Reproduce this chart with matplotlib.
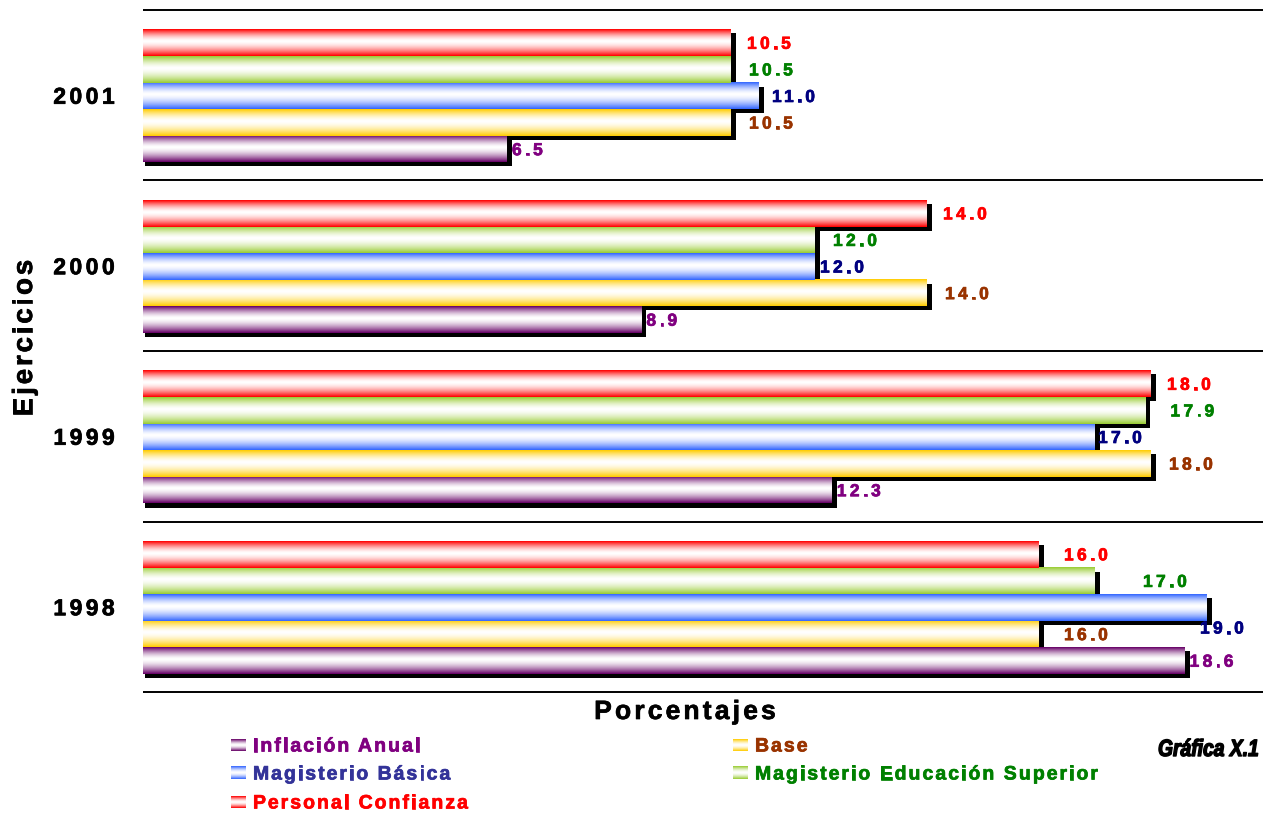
import matplotlib
matplotlib.use("Agg")
import matplotlib.pyplot as plt
import numpy as np
from matplotlib import transforms
from matplotlib import patheffects
from matplotlib.colors import LinearSegmentedColormap
from matplotlib.font_manager import FontProperties
from matplotlib.patches import Rectangle
from matplotlib.transforms import Affine2D

# ---------------------------------------------------------------------------
# Data (1998 .. 2001)
# ---------------------------------------------------------------------------
years = ["1998", "1999", "2000", "2001"]
series = ["Inflación Anual", "Base", "Magisterio Básica",
          "Magisterio Educación Superior", "Personal Confianza"]
inflacion = [18.6, 12.3, 8.9, 6.5]
base = [16.0, 18.0, 14.0, 10.5]
basica = [19.0, 17.0, 12.0, 11.0]
superior = [17.0, 17.9, 12.0, 10.5]
confianza = [16.0, 18.0, 14.0, 10.5]
values = [inflacion, base, basica, superior, confianza]

bar_colors = ["#660066", "#FFCC00", "#3366FF", "#99CC33", "#FF0000"]
label_colors = ["#800080", "#993300", "#000080", "#008000", "#FF0000"]
legend_colors = ["#800080", "#993300", "#333399", "#008000", "#FF0000"]

# label nudges in pixels (Excel placed some labels oddly)
label_dx = [5, 18, 5, 18, 16]
label_nudge = {(3, 2): (13, 0), (0, 4): (25, 0), (0, 1): (25, 0),
               (0, 3): (48, 0), (1, 3): (25, 0), (1, 2): (3, 0),
               (0, 2): (-7, -20)}

W, H = 1263, 813
fig = plt.figure(figsize=(W / 100, H / 100), dpi=100)
renderer = fig.canvas.get_renderer()

# pixel overlay for free text and legend
ax_px = fig.add_axes([0, 0, 1, 1])
ax_px.set_axis_off()

ax = fig.add_axes([143 / W, 1 - 692 / H, 1120 / W, 682 / H])
ax.set_axis_off()

px_x = 20 / 1120
px_y = 4 / 682
bar_h = 26.6 * px_y
base_off = 18 * px_y

# vertical gradient: colour at the edges, white slightly above centre
u = np.linspace(0, 1, 64)
d = np.where(u < 0.55, (0.55 - u) / 0.55, (u - 0.55) / 0.45)
grad = (1 - d ** 1.6)[:, None]
cmaps = [LinearSegmentedColormap.from_list(f"g{k}", [c, "white"])
         for k, c in enumerate(bar_colors)]

for i in range(len(years)):
    for k, vals in enumerate(values):
        y0 = i + base_off + k * bar_h
        v = vals[i]
        ax.add_patch(Rectangle((2 * px_x, y0 - 4 * px_y), v + 3 * px_x, bar_h,
                               color="black", lw=0, zorder=2))
        ax.imshow(grad, cmap=cmaps[k], vmin=0, vmax=1, origin="lower",
                  extent=(0, v, y0, y0 + bar_h), aspect="auto",
                  interpolation="bilinear", zorder=3)

ax.hlines(np.arange(len(years) + 1), 0, 20, color="black", lw=1.4,
          zorder=1, clip_on=False)
ax.set_xlim(0, 20)
ax.set_ylim(0, 4)


class Squeeze(patheffects.AbstractPathEffect):
    """Draw text narrower (condensed look), right edge kept, a bit heavier."""

    def __init__(self, sx, shift_px, stroke=0.6):
        super().__init__()
        self.sx = sx
        self.shift = shift_px
        self.stroke = stroke

    def draw_path(self, renderer, gc, tpath, affine, rgbFace=None):
        aff = (Affine2D().scale(self.sx, 1) + affine
               + Affine2D().translate(self.shift, 0))
        gc0 = renderer.new_gc()
        gc0.copy_properties(gc)
        gc0.set_linewidth(self.stroke)
        gc0.set_foreground(rgbFace)
        renderer.draw_path(gc0, tpath, aff, rgbFace)
        gc0.restore()


def ink_width(s, fp):
    w, h, dsc = renderer.get_text_width_height_descent(s, fp, ismath=False)
    return w


def cap_height(s, fp):
    w, h, dsc = renderer.get_text_width_height_descent(s, fp, ismath=False)
    return h - dsc


def spaced_text(x, y, s, fp, color, spacing, trans, align="left", rotation=0):
    total = ink_width(s, fp) + spacing * (len(s) - 1)
    start = {"left": 0, "center": -total / 2, "right": -total}[align]
    ca, sa = np.cos(np.deg2rad(rotation)), np.sin(np.deg2rad(rotation))
    for i, ch in enumerate(s):
        if ch == " ":
            continue
        off = ink_width(s[:i + 1], fp) - ink_width(ch, fp) + spacing * i + start
        t = transforms.offset_copy(trans, fig=fig, x=off * ca, y=off * sa,
                                   units="dots")
        fig.text(x, y, ch, transform=t, fontproperties=fp, color=color,
                 ha="left", va="baseline", rotation=rotation,
                 rotation_mode="anchor",
                 path_effects=[patheffects.withStroke(linewidth=0.5,
                                                      foreground=color)])


sans = "Liberation Sans"
fp_val = FontProperties(family=sans, weight="bold", size=12.5)
fp_year = FontProperties(family=sans, weight="bold", size=16.5)
fp_title = FontProperties(family=sans, weight="bold", size=19)
fp_yt = FontProperties(family=sans, weight="bold", size=20)
fp_leg = FontProperties(family=sans, weight="bold", size=14)
fp_graf = FontProperties(family=sans, weight="bold", style="italic", size=17)

# value labels
val_cap = cap_height("0", fp_val)
for i in range(len(years)):
    for k, vals in enumerate(values):
        v = vals[i]
        yc = i + base_off + (k + 0.5) * bar_h
        dx, dy = label_nudge.get((i, k), (label_dx[k], 0))
        t = transforms.offset_copy(ax.transData, fig=fig, x=dx,
                                   y=dy - val_cap / 2, units="dots")
        spaced_text(v, yc, f"{v:.1f}", fp_val, label_colors[k], 3.3, t)

# year labels
year_cap = cap_height("0", fp_year)
for i, yr in enumerate(years):
    yc = 692 - (i + 0.5) * 170.5
    spaced_text(84, yc + year_cap / 2, yr, fp_year, "black", 3.5,
                ax_px.transData, align="center")

# axis titles
spaced_text(685, 719, "Porcentajes", fp_title, "black", 3.2,
            ax_px.transData, align="center")
spaced_text(32, 338, "Ejercicios", fp_yt, "black", 2.8,
            ax_px.transData, align="center", rotation=90)

# legend
leg_cap = cap_height("I", fp_leg)
leg_pos = [(231, 745), (733, 745), (231, 773), (733, 773), (231, 802)]
hgrad = (1 - np.abs(np.linspace(-1, 1, 32)) ** 1.6)[:, None]
for k, (lx, ly) in enumerate(leg_pos):
    ax_px.imshow(hgrad, cmap=cmaps[k], vmin=0, vmax=1,
                 extent=(lx, lx + 15, ly + 6, ly - 6), aspect="auto",
                 interpolation="bilinear")
    spaced_text(lx + 22, ly + leg_cap / 2, series[k], fp_leg,
                legend_colors[k], 2.0, ax_px.transData)

ax_px.set_xlim(0, W)
ax_px.set_ylim(H, 0)

# figure tag, condensed heavy italic
graf = "Gráfica X.1"
gw = ink_width(graf, fp_graf)
sx = 101 / gw
fig.text(1259, 756, graf, transform=ax_px.transData,
         fontproperties=fp_graf, color="black", ha="right", va="baseline",
         path_effects=[Squeeze(sx, gw * (1 - sx), 1.0)])

fig.savefig("out.png", dpi=100)
